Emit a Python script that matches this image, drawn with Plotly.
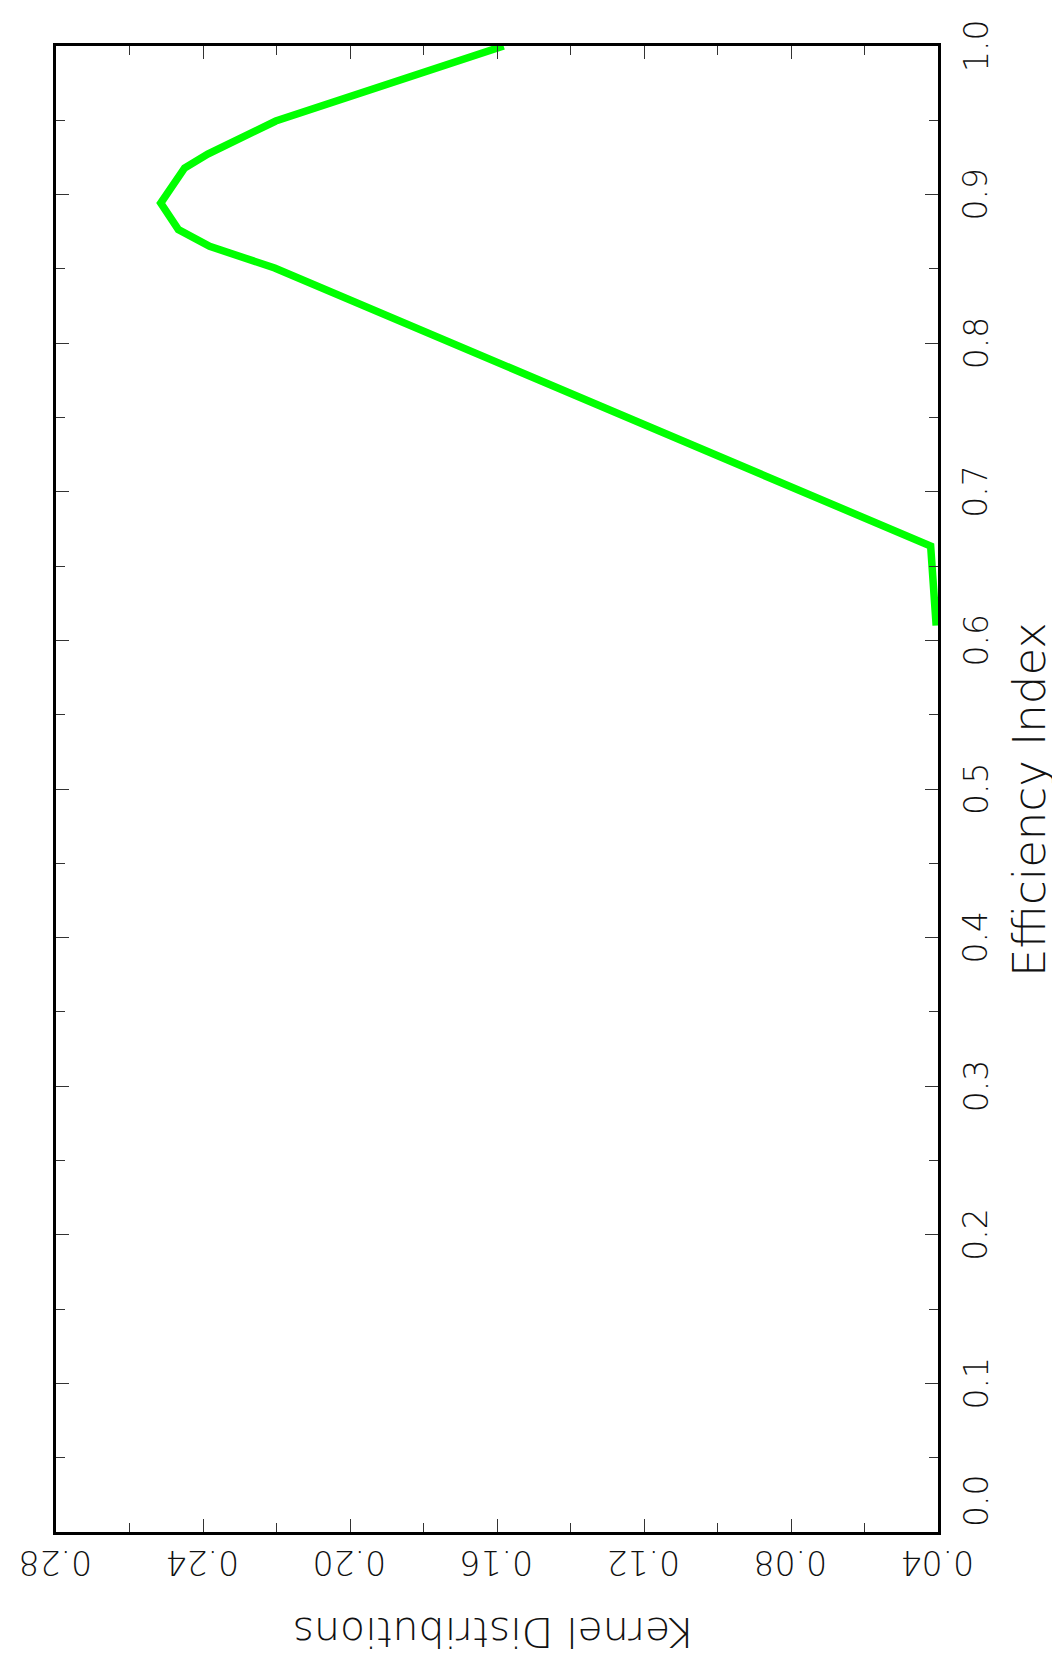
import plotly.graph_objects as go

# Data (x: Kernel Distributions, y: Efficiency Index)
efficiency = [0.610, 0.6635, 0.8506, 0.8569, 0.8652, 0.8764, 0.8943, 0.9179, 0.9273, 0.9495, 1.000]
kernel = [0.0405, 0.0420, 0.2205, 0.2287, 0.2382, 0.2467, 0.2515, 0.2450, 0.2387, 0.2202, 0.1582]

eff_ticks = [0.0, 0.1, 0.2, 0.3, 0.4, 0.5, 0.6, 0.7, 0.8, 0.9, 1.0]
eff_labels = ["0.0", "0.1", "0.2", "0.3", "0.4", "0.5", "0.6", "0.7", "0.8", "0.9", "1.0"]
kern_ticks = [0.28, 0.24, 0.20, 0.16, 0.12, 0.08, 0.04]
kern_labels = ["0.28", "0.24", "0.20", "0.16", "0.12", "0.08", "0.04"]

x_title = "Kernel Distributions"
y_title = "Efficiency Index"

W, H = 1060, 1656
ML, MR, MT, MB = 48, 130, 38, 132
PW = W - ML - MR
PH = H - MT - MB

def px_to_paper_x(px):
    return (px - ML) / PW

def px_to_paper_y(py):
    return (H - MB - py) / PH

fig = go.Figure()
fig.add_trace(go.Scatter(
    x=kernel, y=efficiency, mode="lines",
    line=dict(color="#00ff00", width=7.5),
    hoverinfo="skip", showlegend=False,
))

tick_font = dict(family="DejaVu Sans", size=33, color="#111111", weight=200)
title_font_x = dict(family="DejaVu Sans", size=41, color="#111111", weight=200)
title_font_y = dict(family="DejaVu Sans", size=45, color="#111111", weight=200)

annotations = []
for v, t in zip(eff_ticks, eff_labels):
    shift = 31 if v == eff_ticks[0] else 0
    annotations.append(dict(
        x=px_to_paper_x(968), xref="paper", y=v, yref="y",
        text=t, textangle=-90, showarrow=False,
        xanchor="center", yanchor="middle", yshift=shift, font=tick_font,
    ))
for v, t in zip(kern_ticks, kern_labels):
    annotations.append(dict(
        x=v, xref="x", y=px_to_paper_y(1554.5), yref="paper",
        text=t, textangle=180, showarrow=False,
        xanchor="center", yanchor="middle", font=tick_font,
    ))
annotations.append(dict(
    x=px_to_paper_x(1022), xref="paper", y=px_to_paper_y(792), yref="paper",
    text=y_title, textangle=-90, showarrow=False,
    xanchor="center", yanchor="middle", font=title_font_y,
))
annotations.append(dict(
    x=px_to_paper_x(486), xref="paper", y=px_to_paper_y(1624), yref="paper",
    text=x_title, textangle=180, showarrow=False,
    xanchor="center", yanchor="middle", font=title_font_x,
))

axis_common = dict(
    showgrid=False, zeroline=False, showline=True, linecolor="black", linewidth=3,
    mirror="allticks", ticks="inside", ticklen=13, tickwidth=1, tickcolor="#333333",
    showticklabels=False,
)

fig.update_layout(
    width=W, height=H,
    margin=dict(l=ML, r=MR, t=MT, b=MB, pad=0),
    paper_bgcolor="white", plot_bgcolor="white",
    xaxis=dict(range=[0.28, 0.04], tick0=0.0, dtick=0.04,
               minor=dict(dtick=0.02, ticks="inside", ticklen=9, tickwidth=1, tickcolor="#333333"),
               **axis_common),
    yaxis=dict(range=[0.0, 1.0], side="right", tick0=0.0, dtick=0.1,
               minor=dict(dtick=0.05, ticks="inside", ticklen=9, tickwidth=1, tickcolor="#333333"),
               **axis_common),
    annotations=annotations,
)

fig.write_html("out.html")
